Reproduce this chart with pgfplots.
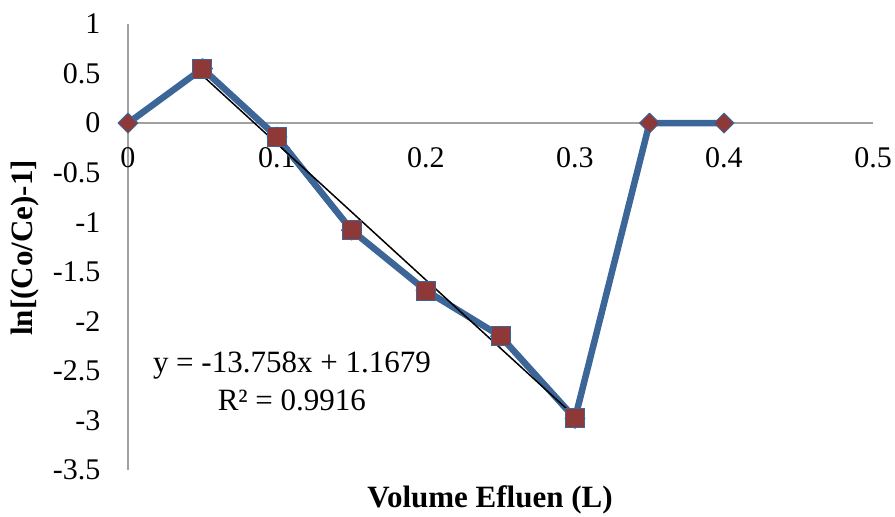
\documentclass[border=0pt]{standalone}
\usepackage{pgfplots}
\pgfplotsset{compat=1.18}
\usepackage{fontspec}
\setmainfont{Liberation Serif}
\definecolor{lineblue}{RGB}{60,101,152}
\definecolor{markred}{RGB}{142,56,56}
\definecolor{axgray}{RGB}{160,160,160}
\begin{document}
\fontsize{15.5}{19}\selectfont
\begin{tikzpicture}
\useasboundingbox (0,0) rectangle (447.5pt,258.5pt);
\begin{axis}[
  at={(64pt,23.5pt)}, anchor=south west,
  scale only axis, width=372.5pt, height=223pt,
  xmin=0, xmax=0.5, ymin=-3.5, ymax=1,
  axis y line=left, axis x line=middle,
  axis line style={axgray, line width=0.75pt, -},
  hide obscured x ticks=false, hide obscured y ticks=false,
  major tick length=0pt,
  xtick={0,0.1,0.2,0.3,0.4,0.5},
  xticklabels={0,0.1,0.2,0.3,0.4,0.5},
  ytick={1,0.5,0,-0.5,-1,-1.5,-2,-2.5,-3,-3.5},
  yticklabels={1,0.5,0,-0.5,-1,-1.5,-2,-2.5,-3,-3.5},
  xticklabel style={font=\fontsize{15}{18}\selectfont, anchor=north, yshift=-7pt},
  yticklabel style={font=\fontsize{15}{18}\selectfont, anchor=east, xshift=-8.5pt},
  xlabel={\textbf{Volume Efluen (L)}},
  ylabel={\textbf{ln[(Co/Ce)-1]}},
  every axis x label/.style={at={(axis description cs:0.486,0)}, anchor=center, yshift=-15pt},
  every axis y label/.style={at={(axis description cs:-0.138,0.498)}, anchor=center, rotate=90},
  clip=false,
]
\addplot[lineblue, line width=3.25pt, line join=round, mark=square*, mark size=3.5pt,
  mark options={rotate=45, fill=markred, draw=lineblue, line width=0.5pt}]
  coordinates {(0,0) (0.05,0.55) (0.1,-0.14) (0.15,-1.08) (0.2,-1.69) (0.25,-2.15) (0.3,-2.98) (0.35,0) (0.4,0)};
\addplot[only marks, mark=square*, mark size=4.75pt,
  mark options={fill=markred, draw=lineblue, line width=0.5pt}]
  coordinates {(0.05,0.55) (0.1,-0.14) (0.15,-1.08) (0.2,-1.69) (0.25,-2.15) (0.3,-2.98)};
\addplot[black, line width=0.75pt] coordinates {(0.05,0.4800) (0.3,-2.9595)};
\node[align=center, font=\fontsize{15.5}{19}\selectfont] at (axis cs:0.110,-2.606)
  {y = -13.758x + 1.1679\\R² = 0.9916};
\end{axis}
\end{tikzpicture}
\end{document}
